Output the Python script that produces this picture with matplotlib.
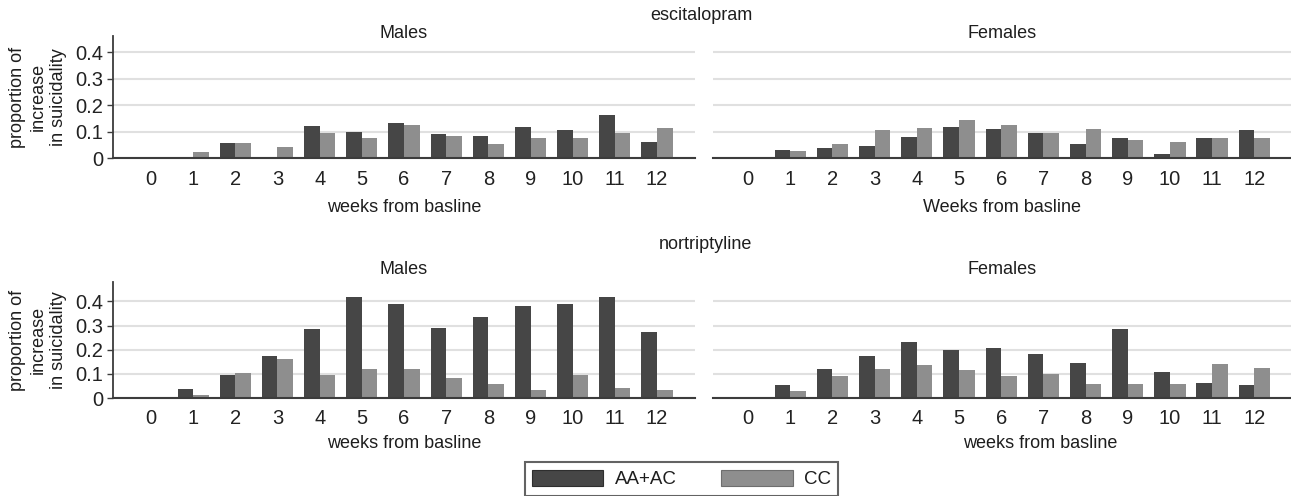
import matplotlib
matplotlib.use("Agg")
import matplotlib.pyplot as plt
from matplotlib.patches import Patch
import numpy as np

plt.rcParams['font.family'] = ['Liberation Sans', 'DejaVu Sans']

weeks = np.arange(13)
week_labels = [str(w) for w in weeks]
series_names = ['AA+AC', 'CC']

# escitalopram
esc_males_aa = [0, 0, 0.058, 0, 0.12, 0.098, 0.133, 0.089, 0.084, 0.116, 0.106, 0.164, 0.06]
esc_males_cc = [0, 0.023, 0.058, 0.041, 0.094, 0.076, 0.125, 0.084, 0.052, 0.076, 0.076, 0.094, 0.115]
esc_females_aa = [0, 0.031, 0.039, 0.045, 0.08, 0.118, 0.11, 0.093, 0.052, 0.075, 0.017, 0.075, 0.106]
esc_females_cc = [0, 0.025, 0.052, 0.106, 0.115, 0.143, 0.124, 0.093, 0.111, 0.07, 0.061, 0.075, 0.075]

# nortriptyline
nor_males_aa = [0, 0.037, 0.095, 0.175, 0.285, 0.417, 0.388, 0.289, 0.336, 0.379, 0.388, 0.417, 0.273]
nor_males_cc = [0, 0.012, 0.103, 0.161, 0.095, 0.122, 0.122, 0.084, 0.056, 0.033, 0.095, 0.041, 0.034]
nor_females_aa = [0, 0.053, 0.12, 0.173, 0.23, 0.2, 0.206, 0.183, 0.145, 0.284, 0.106, 0.063, 0.055]
nor_females_cc = [0, 0.029, 0.091, 0.12, 0.135, 0.116, 0.091, 0.101, 0.059, 0.059, 0.059, 0.139, 0.126]

yticks = [0, 0.1, 0.2, 0.3, 0.4]
ytick_labels = ['0', '0.1', '0.2', '0.3', '0.4']

W, H = 1291, 496
dark_c = '#464646'
light_c = '#8e8e8e'
spine_c = '#3c3c3c'
grid_c = '#e0e0e0'
bw = 0.37
tick_fs = 14.5
text_fs = 13

fig = plt.figure(figsize=(W / 100, H / 100), dpi=100)


def px_axes(left, top, right, bottom):
    return fig.add_axes([left / W, 1 - bottom / H, (right - left) / W, (bottom - top) / H])


def ftext(x, y, s, **kw):
    fig.text(x / W, 1 - y / H, s, ha='center', va='center', **kw)


def panel(ax, aa, cc, ymax, xlim, left_axis, pad):
    ax.bar(weeks - bw / 2, aa, bw, color=dark_c, linewidth=0)
    ax.bar(weeks + bw / 2, cc, bw, color=light_c, linewidth=0)
    ax.set_xlim(*xlim)
    ax.set_ylim(0, ymax)
    ax.set_xticks(weeks)
    ax.set_xticklabels(week_labels, fontsize=tick_fs, color='#222222')
    ax.tick_params(axis='x', length=0, pad=pad)
    ax.set_yticks(yticks)
    ax.yaxis.grid(True, color=grid_c, lw=1.5)
    ax.set_axisbelow(True)
    for s in ['top', 'right']:
        ax.spines[s].set_visible(False)
    ax.spines['bottom'].set_color(spine_c)
    ax.spines['bottom'].set_linewidth(1.5)
    if left_axis:
        ax.spines['left'].set_color(spine_c)
        ax.spines['left'].set_linewidth(1.3)
        ax.set_yticklabels(ytick_labels, fontsize=tick_fs, color='#222222')
        ax.tick_params(axis='y', length=4, width=1, color=spine_c, pad=3)
    else:
        ax.spines['left'].set_visible(False)
        ax.tick_params(axis='y', length=0, labelleft=False)


# top row: escitalopram
ax1 = px_axes(113, 36, 695, 158)
panel(ax1, esc_males_aa, esc_males_cc, 0.462, (-0.9, 12.9), True, 8.6)
ax2 = px_axes(713, 36, 1291, 158)
panel(ax2, esc_females_aa, esc_females_cc, 0.462, (-0.83, 12.87), False, 8.6)

# bottom row: nortriptyline
ax3 = px_axes(113, 282, 695, 398)
panel(ax3, nor_males_aa, nor_males_cc, 0.48, (-0.9, 12.9), True, 8.1)
ax4 = px_axes(713, 282, 1291, 398)
panel(ax4, nor_females_aa, nor_females_cc, 0.48, (-0.83, 12.87), False, 8.1)

tc = '#1e1e1e'
ftext(701, 15, 'escitalopram', fontsize=text_fs, color=tc)
ftext(404, 33, 'Males', fontsize=text_fs, color=tc)
ftext(1002, 33, 'Females', fontsize=text_fs, color=tc)
ftext(404, 207, 'weeks from basline', fontsize=text_fs, color=tc)
ftext(1002, 207, 'Weeks from basline', fontsize=text_fs, color=tc)

ftext(705, 245, 'nortriptyline', fontsize=text_fs, color=tc)
ftext(404, 269, 'Males', fontsize=text_fs, color=tc)
ftext(1002, 269, 'Females', fontsize=text_fs, color=tc)
ftext(404, 443, 'weeks from basline', fontsize=text_fs, color=tc)
ftext(1040, 443, 'weeks from basline', fontsize=text_fs, color=tc)

ylab = 'proportion of\nincrease\nin suicidality'
ftext(38, 97, ylab, fontsize=text_fs, color=tc, rotation=90, multialignment='center', linespacing=1.3)
ftext(38, 340, ylab, fontsize=text_fs, color=tc, rotation=90, multialignment='center', linespacing=1.3)

handles = [Patch(facecolor=dark_c, edgecolor='#2e2e2e', lw=0.8),
           Patch(facecolor=light_c, edgecolor='#6e6e6e', lw=0.8)]
leg = fig.legend(handles, series_names, loc='upper center',
                 bbox_to_anchor=(681.5 / W, 1 - 462 / H), ncol=2, frameon=True,
                 fancybox=False, edgecolor=spine_c, handlelength=3.8,
                 handleheight=1.0, columnspacing=2.4, handletextpad=0.6,
                 borderpad=0.4, borderaxespad=0, fontsize=13.5)
leg.get_frame().set_linewidth(1.5)
for t in leg.get_texts():
    t.set_color(tc)

fig.savefig('out.png', dpi=100)
